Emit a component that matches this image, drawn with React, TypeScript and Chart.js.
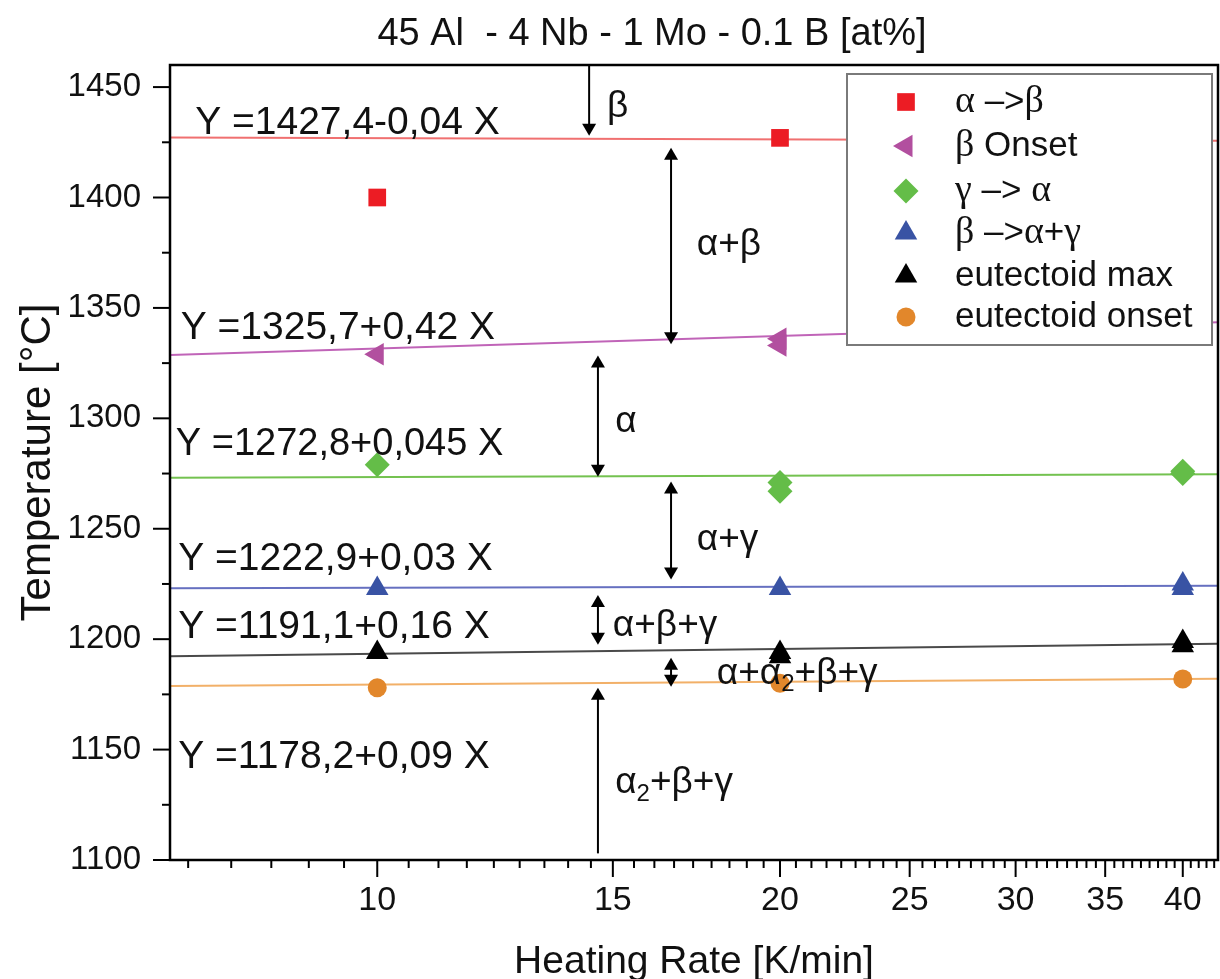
import React, { useEffect, useRef } from "react";
import { Chart, registerables } from "chart.js";

Chart.register(...registerables);

// ---------- text ----------
const TITLE = "45 Al  - 4 Nb - 1 Mo - 0.1 B [at%]";
const X_TITLE = "Heating Rate [K/min]";
const Y_TITLE = "Temperature [°C]";

// ---------- axes ----------
const X_MIN = 7;
const X_MAX = 42.5;
const Y_MIN = 1100;
const Y_MAX = 1460;
const xMajorTicks = [10, 15, 20, 25, 30, 35, 40];
const yMajorTicks = [1100, 1150, 1200, 1250, 1300, 1350, 1400, 1450];
const yMinorTicks = [1125, 1175, 1225, 1275, 1325, 1375, 1425];
const X_MINOR_PER_INTERVAL = 8;

// ---------- series ----------
const alphaBetaX = [10, 20];
const alphaBetaY = [1400, 1427];

const betaOnsetX = [10, 20, 20];
const betaOnsetY = [1329, 1336, 1333];

const gammaAlphaX = [10, 20, 20, 40, 40];
const gammaAlphaY = [1279, 1271, 1267, 1276, 1275];

const betaAlphaGammaX = [10, 20, 40, 40];
const betaAlphaGammaY = [1223, 1223, 1225, 1223];

const eutMaxX = [10, 20, 20, 40, 40];
const eutMaxY = [1194, 1194, 1192, 1199, 1197];

const eutOnsetX = [10, 20, 40];
const eutOnsetY = [1178, 1180, 1182];

const seriesNames = ["α –>β", "β Onset", "γ –> α", "β –>α+γ", "eutectoid max", "eutectoid onset"];

// ---------- linear fits (as printed) ----------
const fitIntercepts = [1427.4, 1325.7, 1272.8, 1222.9, 1191.1, 1178.2];
const fitSlopes = [-0.04, 0.42, 0.045, 0.03, 0.16, 0.09];
const fitLabels = [
  "Y =1427,4-0,04 X",
  "Y =1325,7+0,42 X",
  "Y =1272,8+0,045 X",
  "Y =1222,9+0,03 X",
  "Y =1191,1+0,16 X",
  "Y =1178,2+0,09 X",
];

// ---------- styles ----------
const SANS = '"Liberation Sans", Arial, Helvetica, sans-serif';
const SERIF = '"Liberation Serif", "Times New Roman", serif';
const markerColors = ["#ec1c24", "#b24f9f", "#64bd48", "#3953a4", "#000000", "#e2872b"];
const lineColors = ["#f07070", "#c064b8", "#74c250", "#6670c0", "#4a4a4a", "#f2b068"];
const markerStyles = ["rect", "triangle", "rectRot", "triangle", "triangle", "circle"];
const markerRotations = [0, 270, 0, 0, 0, 0];
const markerRadii = [12.5, 13, 12.5, 13, 13, 9.5];

// annotation anchors (data coordinates)
const eqAnchors = [
  { x: 7.31, y: 1428.8 },
  { x: 7.13, y: 1335.8 },
  { x: 7.07, y: 1283.6 },
  { x: 7.1, y: 1231.5 },
  { x: 7.1, y: 1200.6 },
  { x: 7.1, y: 1141.7 },
];
const eqFontSizes = [39, 39, 38, 39, 39, 39];

type Run = { t: string; size?: number; dy?: number; font?: string };
const phaseLabels: { x: number; y: number; runs: Run[] }[] = [
  { x: 14.85, y: 1440.9, runs: [{ t: "β" }] },
  { x: 17.33, y: 1378.8, runs: [{ t: "α+β" }] },
  { x: 15.06, y: 1298.6, runs: [{ t: "α" }] },
  { x: 17.33, y: 1245.1, runs: [{ t: "α+γ" }] },
  { x: 15.0, y: 1206.1, runs: [{ t: "α+β+γ" }] },
  { x: 17.94, y: 1184.3, runs: [{ t: "α+α" }, { t: "2", size: 24, dy: 11 }, { t: "+β+γ" }] },
  { x: 15.06, y: 1134.9, runs: [{ t: "α" }, { t: "2", size: 24, dy: 11 }, { t: "+β+γ" }] },
];

const arrows = [
  { x: 14.4, top: Y_MAX, bottom: 1428, headTop: false, headBottom: true },
  { x: 16.58, top: 1422.5, bottom: 1333.5, headTop: true, headBottom: true },
  { x: 14.62, top: 1328.5, bottom: 1273.5, headTop: true, headBottom: true },
  { x: 16.58, top: 1271.4, bottom: 1227, headTop: true, headBottom: true },
  { x: 14.62, top: 1220, bottom: 1197.5, headTop: true, headBottom: true },
  { x: 16.58, top: 1191.6, bottom: 1178.4, headTop: true, headBottom: true },
  { x: 14.62, top: 1178, bottom: 1103, headTop: true, headBottom: false },
];

const legendRuns: Run[][] = [
  [{ t: "α", font: SERIF, size: 38 }, { t: " –>" }, { t: "β", font: SERIF, size: 38 }],
  [{ t: "β", font: SERIF, size: 38 }, { t: " Onset" }],
  [{ t: "γ", font: SERIF, size: 38 }, { t: " –> " }, { t: "α", font: SERIF, size: 38 }],
  [{ t: "β", font: SERIF, size: 38 }, { t: " –>" }, { t: "α", font: SERIF, size: 38 }, { t: "+" }, { t: "γ", font: SERIF, size: 38 }],
  [{ t: "eutectoid max" }],
  [{ t: "eutectoid onset" }],
];

function buildXTicks(): number[] {
  const out: number[] = [];
  const step = 5 / (X_MINOR_PER_INTERVAL + 1);
  for (let j = 1; j <= X_MINOR_PER_INTERVAL; j++) {
    const v = 10 - j * step;
    if (v > X_MIN) out.push(v);
  }
  for (let i = 0; i < xMajorTicks.length; i++) {
    out.push(xMajorTicks[i]);
    for (let j = 1; j <= X_MINOR_PER_INTERVAL; j++) {
      const v = xMajorTicks[i] + j * step;
      if (v < X_MAX) out.push(v);
    }
  }
  return out.sort((a, b) => a - b);
}

function drawRuns(ctx: CanvasRenderingContext2D, x: number, y: number, runs: Run[], baseSize: number, baseFont: string) {
  let cx = x;
  for (const r of runs) {
    ctx.font = `${r.size ?? baseSize}px ${r.font ?? baseFont}`;
    ctx.fillText(r.t, cx, y + (r.dy ?? 0));
    cx += ctx.measureText(r.t).width;
  }
}

function drawMarker(ctx: CanvasRenderingContext2D, style: string, x: number, y: number, r: number, rot: number, color: string) {
  ctx.save();
  ctx.fillStyle = color;
  ctx.beginPath();
  if (style === "rect") {
    const s = Math.SQRT1_2 * r;
    ctx.rect(x - s, y - s, 2 * s, 2 * s);
  } else if (style === "rectRot") {
    ctx.moveTo(x - r, y);
    ctx.lineTo(x, y - r);
    ctx.lineTo(x + r, y);
    ctx.lineTo(x, y + r);
    ctx.closePath();
  } else if (style === "circle") {
    ctx.arc(x, y, r, 0, Math.PI * 2);
  } else {
    let a = (rot * Math.PI) / 180;
    ctx.moveTo(x + Math.sin(a) * r, y - Math.cos(a) * r);
    a += (2 * Math.PI) / 3;
    ctx.lineTo(x + Math.sin(a) * r, y - Math.cos(a) * r);
    a += (2 * Math.PI) / 3;
    ctx.lineTo(x + Math.sin(a) * r, y - Math.cos(a) * r);
    ctx.closePath();
  }
  ctx.fill();
  ctx.restore();
}

function drawArrow(ctx: CanvasRenderingContext2D, x: number, y1: number, y2: number, hTop: boolean, hBot: boolean) {
  const hl = 12;
  const hw = 7;
  ctx.beginPath();
  ctx.moveTo(x, hTop ? y1 + hl - 1 : y1);
  ctx.lineTo(x, hBot ? y2 - hl + 1 : y2);
  ctx.stroke();
  if (hTop) {
    ctx.beginPath();
    ctx.moveTo(x, y1);
    ctx.lineTo(x - hw, y1 + hl);
    ctx.lineTo(x + hw, y1 + hl);
    ctx.closePath();
    ctx.fill();
  }
  if (hBot) {
    ctx.beginPath();
    ctx.moveTo(x, y2);
    ctx.lineTo(x - hw, y2 - hl);
    ctx.lineTo(x + hw, y2 - hl);
    ctx.closePath();
    ctx.fill();
  }
}

const overlayPlugin = {
  id: "overlay",
  afterDraw(chart: any) {
    const { ctx, chartArea: ca, scales } = chart;
    const xs = scales.x;
    const ys = scales.y;
    const px = (v: number) => xs.getPixelForValue(v);
    const py = (v: number) => ys.getPixelForValue(v);
    ctx.save();

    // fit equations
    ctx.fillStyle = "#111";
    ctx.textAlign = "left";
    ctx.textBaseline = "alphabetic";
    fitLabels.forEach((t, i) => {
      ctx.font = `${eqFontSizes[i]}px ${SANS}`;
      ctx.fillText(t, px(eqAnchors[i].x), py(eqAnchors[i].y));
    });

    // arrows
    ctx.strokeStyle = "#000";
    ctx.fillStyle = "#000";
    ctx.lineWidth = 2;
    arrows.forEach((a) => drawArrow(ctx, px(a.x), py(a.top), py(a.bottom), a.headTop, a.headBottom));

    // phase labels
    ctx.fillStyle = "#111";
    ctx.textBaseline = "middle";
    phaseLabels.forEach((p) => drawRuns(ctx, px(p.x), py(p.y), p.runs, 37, SANS));

    // legend
    const lx = ca.right - 371;
    const ly = ca.top + 9;
    const lw = 365;
    const lh = 271;
    ctx.fillStyle = "#fff";
    ctx.fillRect(lx, ly, lw, lh);
    ctx.strokeStyle = "#7a7a7a";
    ctx.lineWidth = 2;
    ctx.strokeRect(lx, ly, lw, lh);
    const rowY = [28, 72, 117, 159, 202, 243];
    seriesNames.forEach((_, i) => {
      drawMarker(ctx, markerStyles[i], lx + 59, ly + rowY[i], markerRadii[i], markerRotations[i], markerColors[i]);
      ctx.fillStyle = "#111";
      ctx.textBaseline = "middle";
      drawRuns(ctx, lx + 108, ly + rowY[i], legendRuns[i], 35, SANS);
    });

    // frame
    ctx.strokeStyle = "#000";
    ctx.lineWidth = 2.5;
    ctx.strokeRect(ca.left, ca.top, ca.right - ca.left, ca.bottom - ca.top);

    // tick marks
    ctx.lineWidth = 2;
    xs.ticks.forEach((t: any) => {
      const x = px(t.value);
      const len = xMajorTicks.includes(t.value) ? 17 : 8;
      ctx.beginPath();
      ctx.moveTo(x, ca.bottom);
      ctx.lineTo(x, ca.bottom + len);
      ctx.stroke();
    });
    ys.ticks.forEach((t: any) => {
      const y = py(t.value);
      const len = yMajorTicks.includes(t.value) ? 17 : 8;
      ctx.beginPath();
      ctx.moveTo(ca.left, y);
      ctx.lineTo(ca.left - len, y);
      ctx.stroke();
    });

    // titles
    ctx.fillStyle = "#111";
    ctx.textBaseline = "alphabetic";
    ctx.textAlign = "center";
    ctx.font = `38px ${SANS}`;
    ctx.fillText(TITLE, 652, ca.top - 20);
    ctx.font = `39px ${SANS}`;
    ctx.fillText(X_TITLE, (ca.left + ca.right) / 2, 973);
    ctx.save();
    ctx.translate(50, (ca.top + ca.bottom) / 2);
    ctx.rotate(-Math.PI / 2);
    ctx.font = `42px ${SANS}`;
    ctx.fillText(Y_TITLE, 0, 0);
    ctx.restore();

    ctx.restore();
  },
};

function pts(xs: number[], ys: number[]) {
  return xs.map((x, i) => ({ x, y: ys[i] }));
}

export default function App() {
  const ref = useRef<HTMLCanvasElement>(null);

  useEffect(() => {
    const canvas = ref.current;
    if (!canvas) return;

    const seriesX = [alphaBetaX, betaOnsetX, gammaAlphaX, betaAlphaGammaX, eutMaxX, eutOnsetX];
    const seriesY = [alphaBetaY, betaOnsetY, gammaAlphaY, betaAlphaGammaY, eutMaxY, eutOnsetY];

    const scatterSets = seriesNames.map((name, i) => ({
      type: "scatter" as const,
      label: name,
      data: pts(seriesX[i], seriesY[i]),
      backgroundColor: markerColors[i],
      borderColor: markerColors[i],
      borderWidth: 0,
      pointStyle: markerStyles[i] as any,
      pointRotation: markerRotations[i],
      pointRadius: markerRadii[i],
      order: 1,
    }));

    const fitSets = fitIntercepts.map((a, i) => ({
      type: "line" as const,
      label: fitLabels[i],
      data: [
        { x: X_MIN, y: a + fitSlopes[i] * X_MIN },
        { x: X_MAX, y: a + fitSlopes[i] * X_MAX },
      ],
      borderColor: lineColors[i],
      borderWidth: 2,
      pointRadius: 0,
      fill: false,
      tension: 0,
      order: 2,
    }));

    const xTicks = buildXTicks();
    const yTicks = [...yMajorTicks, ...yMinorTicks].sort((a, b) => a - b);

    const chart = new Chart(canvas, {
      type: "scatter",
      data: { datasets: [...scatterSets, ...fitSets] as any },
      options: {
        responsive: false,
        animation: false,
        devicePixelRatio: 1,
        layout: { autoPadding: false, padding: { top: 65, right: 2, left: 0, bottom: 0 } },
        plugins: {
          legend: { display: false },
          tooltip: { enabled: false },
          title: { display: false },
        },
        scales: {
          x: {
            type: "logarithmic",
            min: X_MIN,
            max: X_MAX,
            afterBuildTicks: (scale: any) => {
              scale.ticks = xTicks.map((v) => ({ value: v }));
            },
            afterFit: (scale: any) => {
              scale.height = 119;
              scale.paddingLeft = 0;
              scale.paddingRight = 0;
            },
            grid: { display: true, drawOnChartArea: false, drawTicks: false },
            border: { display: false },
            ticks: {
              autoSkip: false,
              maxRotation: 0,
              minRotation: 0,
              padding: 20,
              color: "#111",
              font: { family: SANS, size: 34 },
              callback: (v: any) => (xMajorTicks.includes(Number(v)) ? String(v) : ""),
            },
          },
          y: {
            type: "linear",
            min: Y_MIN,
            max: Y_MAX,
            afterBuildTicks: (scale: any) => {
              scale.ticks = yTicks.map((v) => ({ value: v }));
            },
            afterFit: (scale: any) => {
              scale.width = 170;
              scale.paddingTop = 0;
              scale.paddingBottom = 0;
            },
            grid: { display: true, drawOnChartArea: false, drawTicks: false },
            border: { display: false },
            ticks: {
              autoSkip: false,
              padding: 29,
              color: "#111",
              font: { family: SANS, size: 33 },
              callback: (v: any) => (yMajorTicks.includes(Number(v)) ? String(v) : ""),
            },
          },
        },
      },
      plugins: [overlayPlugin],
    });

    return () => chart.destroy();
  }, []);

  return (
    <div style={{ position: "absolute", left: 0, top: 0, width: 1220, height: 979, background: "#fff" }}>
      <canvas ref={ref} width={1220} height={979} style={{ display: "block" }} />
    </div>
  );
}
